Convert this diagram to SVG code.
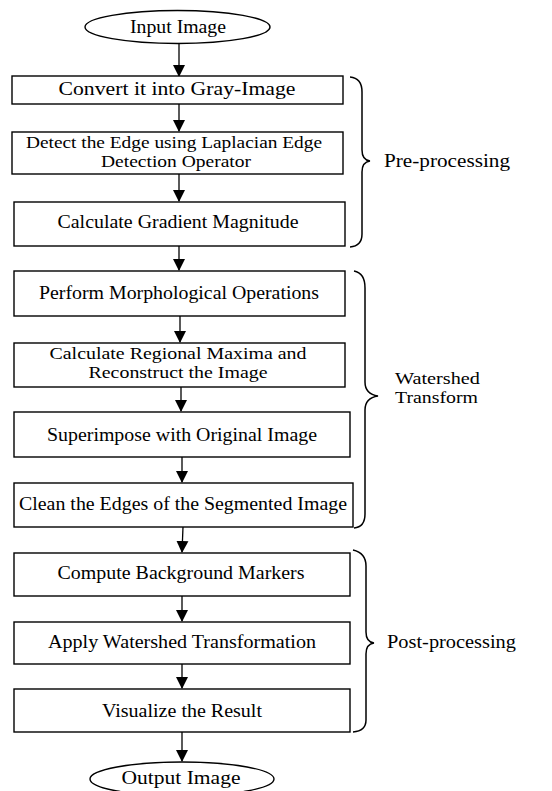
<svg xmlns="http://www.w3.org/2000/svg" width="552" height="791" viewBox="0 0 552 791">
<defs>
<marker id="ah" markerWidth="12" markerHeight="14" refX="11" refY="6" orient="auto" markerUnits="userSpaceOnUse" viewBox="0 0 12 12">
<path d="M0,0 L12,6 L0,12 Z" fill="#000"/>
</marker>
</defs>
<style>
.n{fill:#fff;stroke:#000;stroke-width:1.4}
.t{font-family:"Liberation Serif","Times New Roman",serif;font-size:18px;fill:#000;text-anchor:middle}
.t2{font-family:"Liberation Serif","Times New Roman",serif;font-size:17px;fill:#000;text-anchor:middle}
.l{font-family:"Liberation Serif","Times New Roman",serif;font-size:18px;fill:#000}
.l2{font-family:"Liberation Serif","Times New Roman",serif;font-size:17px;fill:#000}
.c{stroke:#000;stroke-width:1.3;fill:none}
.b{stroke:#000;stroke-width:1.5;fill:none}
</style>
<rect width="552" height="791" fill="#fff"/>
<g id="connectors">
<line class="c" x1="179" y1="44" x2="179" y2="76" marker-end="url(#ah)"/>
<line class="c" x1="179" y1="104" x2="179" y2="131" marker-end="url(#ah)"/>
<line class="c" x1="179" y1="174" x2="179" y2="201" marker-end="url(#ah)"/>
<line class="c" x1="179" y1="246" x2="179" y2="270" marker-end="url(#ah)"/>
<line class="c" x1="180" y1="316" x2="180" y2="342" marker-end="url(#ah)"/>
<line class="c" x1="181" y1="387" x2="181" y2="411" marker-end="url(#ah)"/>
<line class="c" x1="182" y1="457" x2="182" y2="482" marker-end="url(#ah)"/>
<line class="c" x1="183" y1="527" x2="182" y2="552" marker-end="url(#ah)"/>
<line class="c" x1="182" y1="596" x2="182" y2="621" marker-end="url(#ah)"/>
<line class="c" x1="182" y1="664" x2="182" y2="688" marker-end="url(#ah)"/>
<line class="c" x1="182" y1="732" x2="182" y2="761" marker-end="url(#ah)"/>
</g>
<g id="input"><ellipse class="n" cx="177.5" cy="27" rx="92.5" ry="16.5"/><text class="t" x="178" y="33" textLength="96" lengthAdjust="spacingAndGlyphs">Input Image</text></g>
<g id="gray"><rect class="n" x="12" y="76" width="331" height="28"/><text class="t" x="177" y="95" textLength="237" lengthAdjust="spacingAndGlyphs">Convert it into Gray-Image</text></g>
<g id="edge"><rect class="n" x="12" y="132" width="331" height="42"/><text class="t2" x="174" y="148" textLength="296" lengthAdjust="spacingAndGlyphs">Detect the Edge using Laplacian Edge</text><text class="t2" x="176" y="167" textLength="150" lengthAdjust="spacingAndGlyphs">Detection Operator</text></g>
<g id="gradient"><rect class="n" x="14" y="202" width="331" height="44"/><text class="t" x="178" y="228" textLength="241" lengthAdjust="spacingAndGlyphs">Calculate Gradient Magnitude</text></g>
<g id="morph"><rect class="n" x="14" y="271" width="331" height="45"/><text class="t" x="179" y="299" textLength="280" lengthAdjust="spacingAndGlyphs">Perform Morphological Operations</text></g>
<g id="maxima"><rect class="n" x="14" y="343" width="331" height="44"/><text class="t2" x="178" y="359" textLength="257" lengthAdjust="spacingAndGlyphs">Calculate Regional Maxima and</text><text class="t2" x="178" y="378" textLength="179" lengthAdjust="spacingAndGlyphs">Reconstruct the Image</text></g>
<g id="superimpose"><rect class="n" x="14" y="412" width="336" height="45"/><text class="t" x="182" y="441" textLength="270" lengthAdjust="spacingAndGlyphs">Superimpose with Original Image</text></g>
<g id="clean"><rect class="n" x="14" y="483" width="339" height="44"/><text class="t" x="183" y="510" textLength="328" lengthAdjust="spacingAndGlyphs">Clean the Edges of the Segmented Image</text></g>
<g id="bgmarkers"><rect class="n" x="14" y="553" width="336" height="43"/><text class="t" x="181" y="579" textLength="247" lengthAdjust="spacingAndGlyphs">Compute Background Markers</text></g>
<g id="watershed"><rect class="n" x="14" y="622" width="336" height="42"/><text class="t" x="182" y="648" textLength="268" lengthAdjust="spacingAndGlyphs">Apply Watershed Transformation</text></g>
<g id="visualize"><rect class="n" x="14" y="689" width="336" height="43"/><text class="t" x="182" y="717" textLength="160" lengthAdjust="spacingAndGlyphs">Visualize the Result</text></g>
<g id="output"><ellipse class="n" cx="182" cy="779" rx="92" ry="17"/><text class="t" x="181" y="784" textLength="119" lengthAdjust="spacingAndGlyphs">Output Image</text></g>
<g id="pre">
<path class="b" d="M350,77 Q362,78 362,92 L362,150 Q362,160 370,161 Q362,162 362,172 L362,234 Q362,246 350,247"/>
<text class="l" x="384" y="167" textLength="126" lengthAdjust="spacingAndGlyphs">Pre-processing</text>
</g>
<g id="ws">
<path class="b" d="M354,271 Q365,273 365,288 L365,382 Q365,394 378,396 Q365,398 365,410 L365,514 Q365,527 354,528"/>
<text class="l2" x="395" y="384" textLength="85" lengthAdjust="spacingAndGlyphs">Watershed</text>
<text class="l2" x="395" y="403" textLength="83" lengthAdjust="spacingAndGlyphs">Transform</text>
</g>
<g id="post">
<path class="b" d="M353,550 Q366,553 366,566 L366,632 Q366,642 374,643 Q366,644 366,654 L366,720 Q366,731 353,732"/>
<text class="l" x="387" y="648" textLength="129" lengthAdjust="spacingAndGlyphs">Post-processing</text>
</g>
</svg>
